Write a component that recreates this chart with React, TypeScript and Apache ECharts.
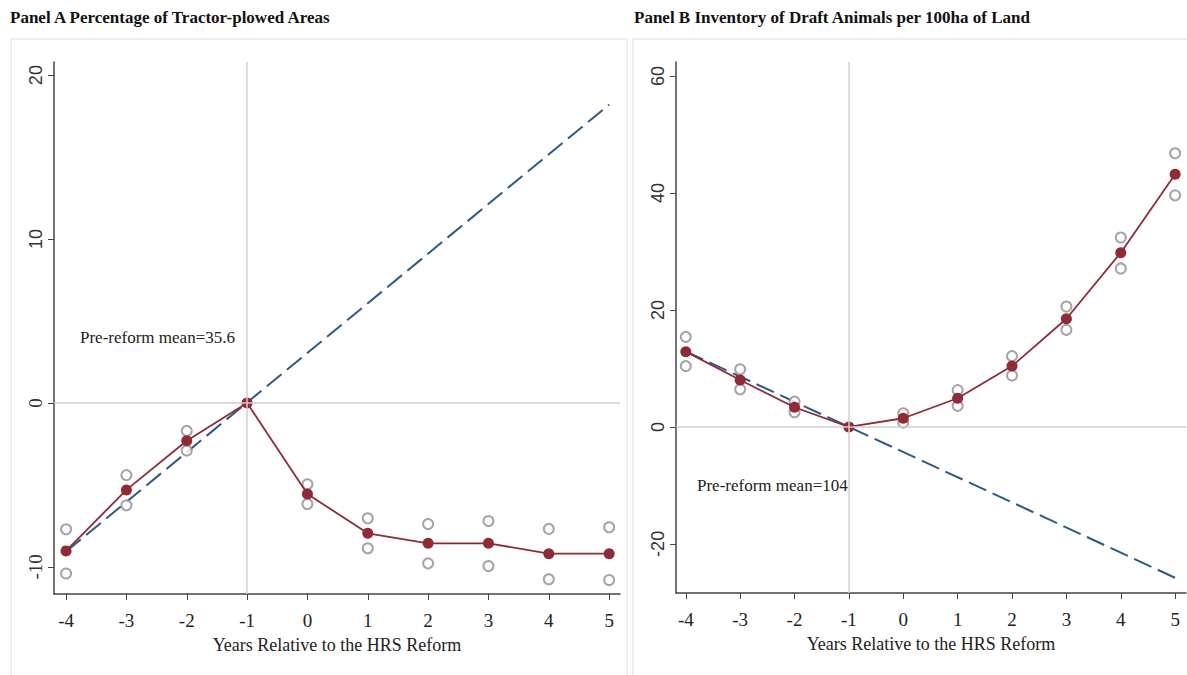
import React, { useEffect, useRef } from "react";
import * as echarts from "echarts";

const years = [-4, -3, -2, -1, 0, 1, 2, 3, 4, 5];
const meanA = [-9.02, -5.3, -2.3, 0, -5.55, -7.95, -8.56, -8.56, -9.19, -9.19];
const upperA = [-7.7, -4.4, -1.7, null, -4.96, -7.03, -7.38, -7.2, -7.68, -7.58];
const lowerA = [-10.4, -6.24, -2.9, null, -6.16, -8.86, -9.78, -9.94, -10.75, -10.8];
const trendYearsA = [-4, 5];
const trendA = [-9.06, 18.2];

const meanB = [12.87, 8.03, 3.36, 0, 1.48, 4.9, 10.4, 18.5, 29.8, 43.2];
const upperB = [15.4, 9.86, 4.33, null, 2.34, 6.3, 12.1, 20.6, 32.4, 46.8];
const lowerB = [10.4, 6.44, 2.5, null, 0.74, 3.6, 8.8, 16.6, 27.1, 39.6];
const trendYearsB = [-4, 5];
const trendB = [12.9, -25.8];

const yTicksA = [-10, 0, 10, 20];
const yTicksB = [-20, 0, 20, 40, 60];

const titleA = "Panel A Percentage of Tractor-plowed Areas";
const titleB = "Panel B Inventory of Draft Animals per 100ha of Land";
const xName = "Years Relative to the HRS Reform";
const noteA = "Pre-reform mean=35.6";
const noteB = "Pre-reform mean=104";

const SERIF = "'Liberation Serif', 'Times New Roman', serif";
const SANS = "'Liberation Sans', Arial, sans-serif";
const RED = "#8e2b37";
const BLUE = "#2e5886";
const GREY = "#8f8f8f";

const pairs = (xs: number[], ys: (number | null)[]) =>
  xs.map((x, i) => [x, ys[i]]).filter((p) => p[1] !== null);

function xAxisCfg(gridIndex: number, min: number, max: number) {
  return {
    type: "value",
    gridIndex,
    min,
    max,
    name: xName,
    nameLocation: "middle",
    nameGap: 42,
    nameTextStyle: { fontFamily: SERIF, fontSize: 18, color: "#222" },
    axisLine: { show: true, onZero: false, lineStyle: { color: "#444", width: 1.5 } },
    axisTick: { show: true, length: 6, customValues: years, lineStyle: { color: "#444" } },
    axisLabel: {
      customValues: years,
      fontFamily: SERIF,
      fontSize: 19,
      color: "#222",
      margin: 17,
    },
    splitLine: { show: false },
  };
}

function yAxisCfg(gridIndex: number, min: number, max: number, ticks: number[], mixed: boolean) {
  return {
    type: "value",
    gridIndex,
    min,
    max,
    axisLine: { show: true, onZero: false, lineStyle: { color: "#444", width: 1.5 } },
    axisTick: { show: true, length: 6, customValues: ticks, lineStyle: { color: "#444" } },
    axisLabel: {
      customValues: ticks,
      rotate: 90,
      margin: 9,
      color: "#333",
      fontSize: 18,
      fontFamily: mixed ? SERIF : SANS,
      formatter: (v: number) => (mixed ? (v >= 10 ? `{s|${v}}` : `{r|${v}}`) : `${v}`),
      rich: {
        s: { fontFamily: SANS, fontSize: 18, color: "#333" },
        r: { fontFamily: SERIF, fontSize: 19, color: "#333" },
      },
    },
    splitLine: { show: false },
  };
}

function panelSeries(idx: number, mean: number[], upper: (number | null)[], lower: (number | null)[], ty: number[], tv: number[]) {
  return [
    {
      type: "line",
      xAxisIndex: idx,
      yAxisIndex: idx,
      data: pairs(ty, tv),
      symbol: "none",
      lineStyle: { color: BLUE, width: 2, type: [19, 7] },
      z: 2,
      markLine: {
        silent: true,
        symbol: "none",
        label: { show: false },
        lineStyle: { color: "#cfcfcf", width: 1.5, type: "solid" },
        data: [{ yAxis: 0 }, { xAxis: -1 }],
      },
    },
    {
      type: "scatter",
      xAxisIndex: idx,
      yAxisIndex: idx,
      data: pairs(years, upper),
      symbol: "emptyCircle",
      symbolSize: 10,
      itemStyle: { color: GREY, borderColor: GREY, borderWidth: 1.6 },
      z: 3,
    },
    {
      type: "scatter",
      xAxisIndex: idx,
      yAxisIndex: idx,
      data: pairs(years, lower),
      symbol: "emptyCircle",
      symbolSize: 10,
      itemStyle: { color: GREY, borderColor: GREY, borderWidth: 1.6 },
      z: 3,
    },
    {
      type: "line",
      xAxisIndex: idx,
      yAxisIndex: idx,
      data: pairs(years, mean),
      symbol: "circle",
      symbolSize: 11,
      showAllSymbol: true,
      lineStyle: { color: RED, width: 1.8 },
      itemStyle: { color: RED },
      z: 4,
    },
  ];
}

export default function App() {
  const ref = useRef<HTMLDivElement>(null);
  useEffect(() => {
    if (!ref.current) return;
    const chart = echarts.init(ref.current, null, { renderer: "svg" });
    chart.setOption({
      animation: false,
      backgroundColor: "#ffffff",
      title: [
        {
          text: titleA,
          left: 5,
          top: 4,
          textStyle: { fontFamily: SERIF, fontSize: 17, fontWeight: "bold", color: "#111" },
        },
        {
          text: titleB,
          left: 629,
          top: 4,
          textStyle: { fontFamily: SERIF, fontSize: 17, fontWeight: "bold", color: "#111" },
        },
      ],
      graphic: [
        {
          type: "rect",
          shape: { x: 11, y: 39, width: 616, height: 660 },
          style: { fill: "none", stroke: "#e3ebf1", lineWidth: 1.5 },
          silent: true,
          z: -10,
        },
        {
          type: "rect",
          shape: { x: 633, y: 39, width: 570, height: 660 },
          style: { fill: "none", stroke: "#e3ebf1", lineWidth: 1.5 },
          silent: true,
          z: -10,
        },
        {
          type: "text",
          left: 80,
          top: 329,
          style: { text: noteA, fontFamily: SERIF, fontSize: 17, fill: "#222" },
        },
        {
          type: "text",
          left: 697,
          top: 477,
          style: { text: noteB, fontFamily: SERIF, fontSize: 17, fill: "#222" },
        },
      ],
      grid: [
        { left: 54, top: 62, width: 566, height: 532 },
        { left: 676, top: 62, width: 510, height: 531 },
      ],
      xAxis: [xAxisCfg(0, -4.2, 5.18), xAxisCfg(1, -4.18, 5.2)],
      yAxis: [yAxisCfg(0, -11.65, 20.8, yTicksA, true), yAxisCfg(1, -28.4, 62.4, yTicksB, false)],
      series: [
        ...panelSeries(0, meanA, upperA, lowerA, trendYearsA, trendA),
        ...panelSeries(1, meanB, upperB, lowerB, trendYearsB, trendB),
      ],
    });
    return () => chart.dispose();
  }, []);
  return (
    <div
      ref={ref}
      style={{ position: "fixed", left: 0, top: 0, width: 1187, height: 675 }}
    />
  );
}
